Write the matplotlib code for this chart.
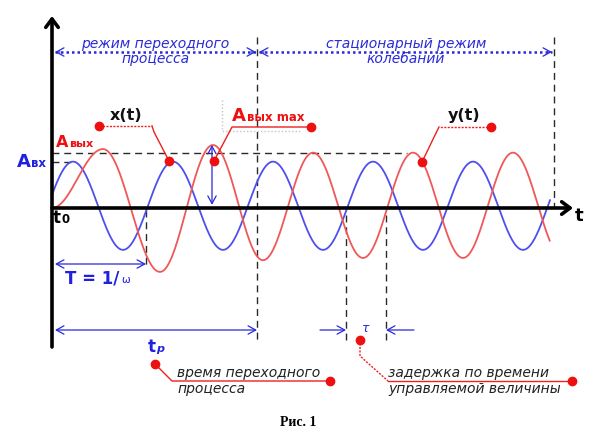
import numpy as np
import matplotlib
matplotlib.use('Agg')
import matplotlib.pyplot as plt

plt.rcParams['font.family'] = ['DejaVu Sans']

# --- data (t in periods, v in units of A_вх) ---
period = 1.0
a_in = 0.98
in_offset = 0.05
in_phase = 0.04
t_end = 4.98

# extrema of the output signal y(t)
out_t = [0.0, 0.51, 1.08, 1.61, 2.11, 2.61, 3.11, 3.61, 4.11, 4.61, 5.11]
out_v = [0.0, 1.31, -1.42, 1.40, -1.16, 1.23, -1.11, 1.23, -1.11, 1.23, -1.11]

a_in_level = 1.03
a_out_level = 1.23
a_out_max = 1.40
t_max = 1.60
t_T = 0.94
t_transient = 2.05
tau_start = 2.94
tau_end = 3.34
t_stop = 5.02
t_axis_end = 5.21

# pixel layout of the drawing
X0, SX, Y0, SY = 52, 100, 208, 45


def P(x, y):
    return (x - X0) / SX, (Y0 - y) / SY


blue = '#4f4fee'
red = '#f05858'
tblue = '#2a2ad8'
dark = '#2a2a2a'

fig = plt.figure(figsize=(6.06, 4.48), dpi=100)
ax = fig.add_axes([0, 0, 1, 1])
ax.set_xlim(P(0, 0)[0], P(606, 0)[0])
ax.set_ylim(P(0, 448)[1], P(0, 0)[1])
ax.axis('off')

# input x(t)
t = np.linspace(0, t_end, 1000)
x_in = in_offset + a_in * np.sin(2 * np.pi * (t / period + in_phase))
ax.plot(t, x_in, color=blue, lw=1.3, zorder=2)

# output y(t): half-cosine arcs between the read extrema
tt, vv = [], []
for i in range(len(out_t) - 1):
    s = np.linspace(0, 1, 80)
    tt.append(out_t[i] + (out_t[i + 1] - out_t[i]) * s)
    vv.append(out_v[i] + (out_v[i + 1] - out_v[i]) * (1 - np.cos(np.pi * s)) / 2)
tt = np.concatenate(tt)
vv = np.concatenate(vv)
keep = tt <= t_end
ax.plot(tt[keep], vv[keep], color=red, lw=1.3, zorder=2)

# axes with arrows
ax_kw = dict(arrowstyle='->,head_length=0.4,head_width=0.3', lw=2.6, color='k',
             mutation_scale=15, shrinkA=0, shrinkB=0)
ax.annotate('', xy=(0, P(0, 16)[1]), xytext=(0, P(0, 347)[1]), arrowprops=ax_kw, zorder=4)
ax.annotate('', xy=(t_axis_end, 0), xytext=(0, 0), arrowprops=ax_kw, zorder=4)

# dashed helper lines
dk = dict(color=dark, lw=1, dashes=(5, 3.5), zorder=1)
ax.plot([0, 0.24], [a_in_level, a_in_level], **dk)
ax.plot([0, 3.55], [a_out_level, a_out_level], **dk)
ax.plot([t_transient, t_transient], [P(0, 37)[1], P(0, 340)[1]], **dk)
ax.plot([t_stop, t_stop], [P(0, 37)[1], 0], **dk)
ax.plot([t_T, t_T], [-0.04, P(0, 265)[1]], **dk)
ax.plot([tau_start, tau_start], [P(0, 215)[1], P(0, 342)[1]], **dk)
ax.plot([tau_end, tau_end], [P(0, 215)[1], P(0, 342)[1]], **dk)

# blue dimension arrows
ar = dict(arrowstyle='<->,head_length=0.55,head_width=0.3', lw=0.9, color=tblue,
          mutation_scale=10, shrinkA=0, shrinkB=0)
ar1 = dict(arrowstyle='->,head_length=0.55,head_width=0.3', lw=0.9, color=tblue,
           mutation_scale=10, shrinkA=0, shrinkB=0)
yT = P(0, 264)[1]
ax.annotate('', xy=P(55, 264), xytext=(t_T, yT), arrowprops=ar)
ax.annotate('', xy=(t_max, a_out_max), xytext=(t_max, 0.07), arrowprops=ar)
ax.annotate('', xy=P(55, 330), xytext=(t_transient, P(0, 330)[1]), arrowprops=ar)
ax.annotate('', xy=(tau_start, P(0, 330)[1]), xytext=P(320, 330), arrowprops=ar1)
ax.annotate('', xy=(tau_end, P(0, 330)[1]), xytext=P(414, 330), arrowprops=ar1)

# top dotted ranges
yr = P(0, 52)[1]
for a, b in [(P(55, 0)[0], P(256, 0)[0]), (P(259, 0)[0], P(552, 0)[0])]:
    ax.plot([a, b], [yr, yr], color=tblue, lw=1.8, ls=(0, (1, 1.2)))
    ax.annotate('', xy=(a, yr), xytext=(a + 0.05, yr), arrowprops=ar1)
    ax.annotate('', xy=(b, yr), xytext=(b - 0.05, yr), arrowprops=ar1)

it = dict(style='italic', fontsize=10, color=tblue)
ax.text(*P(155, 48), 'режим переходного', ha='center', va='baseline', **it)
ax.text(*P(156, 63), 'процесса', ha='center', va='baseline', **it)
ax.text(*P(406, 48), 'стационарный режим', ha='center', va='baseline', **it)
ax.text(*P(406, 63), 'колебаний', ha='center', va='baseline', **it)


def leader(pts, dotted=False, dots=()):
    xs, ys = zip(*[P(*p) for p in pts])
    ax.plot(xs, ys, color='#ee2020', lw=1, ls=(0, (1.5, 1)) if dotted else '-', zorder=5)
    for p in dots:
        ax.plot(*P(*p), 'o', color='#ee1010', ms=6, zorder=6)


# gray dotted frame near A_вых max
xs, ys = zip(*[P(222, 100), P(222, 131), P(300, 131)])
ax.plot(xs, ys, color='#c4c4c4', lw=1, ls=(0, (1, 1.5)))

leader([(99, 126), (152, 126)], dotted=True, dots=[(99, 126)])
leader([(152, 126), (154, 132), (169, 161)], dots=[(169, 161)])
leader([(311, 127), (232, 127), (214, 161)], dots=[(311, 127), (214, 161)])
leader([(491, 127), (439, 127)], dotted=True, dots=[(491, 127)])
leader([(439, 127), (437, 131), (422, 162)], dots=[(422, 162)])
leader([(155, 364), (172, 381), (330, 381)], dots=[(155, 364), (330, 381)])
leader([(360, 340), (360, 356), (388, 381)], dotted=True, dots=[(360, 340)])
leader([(388, 381), (572, 381)], dots=[(572, 381)])

# labels
bk = dict(fontweight='bold', va='baseline', ha='left')
ax.text(*P(17, 167), 'A', fontsize=13, color='#2020e0', **bk)
ax.text(*P(31, 167), 'вх', fontsize=8.5, color='#2020e0', **bk)
ax.text(*P(56, 147), 'A', fontsize=11.5, color='#ee1010', **bk)
ax.text(*P(69, 147), 'вых', fontsize=8, color='#ee1010', **bk)
ax.text(*P(232, 121), 'A', fontsize=13, color='#ee1010', **bk)
ax.text(*P(247, 121), 'вых max', fontsize=8.5, color='#ee1010', **bk)
ax.text(*P(53, 223), 't', fontsize=12, color='k', **bk)
ax.text(*P(62, 223), '0', fontsize=8.5, color='k', **bk)
ax.text(*P(575, 221), 't', fontsize=13, color='k', **bk)
ax.text(*P(110, 120), 'x(t)', fontsize=11.5, color='#111111', **bk)
ax.text(*P(448, 120), 'y(t)', fontsize=11.5, color='#111111', **bk)
ax.text(*P(65, 283), 'T = 1/', fontsize=12, color='#2020e0', **bk)
ax.text(*P(121, 283), 'ω', fontsize=7.5, color='#2020e0', va='baseline', ha='left')
ax.text(*P(148, 352), 't', fontsize=12, color='#2020e0', **bk)
ax.text(*P(156, 352), 'р', fontsize=8, color='#2020e0', style='italic', va='baseline',
        ha='left', fontweight='bold')
ax.text(*P(362, 332), 'τ', fontsize=9, color=tblue, style='italic', va='baseline', ha='left')

lt = dict(style='italic', fontsize=10, color='#222222', va='baseline', ha='left')
ax.text(*P(177, 377), 'время переходного', **lt)
ax.text(*P(177, 393), 'процесса', **lt)
ax.text(*P(388, 377), 'задержка по времени', **lt)
ax.text(*P(388, 393), 'управляемой величины', **lt)

ax.text(*P(298, 426), 'Рис. 1', fontsize=10, fontweight='bold', family='Liberation Serif',
        ha='center', va='baseline', color='k')

fig.savefig('out.png', dpi=100)
